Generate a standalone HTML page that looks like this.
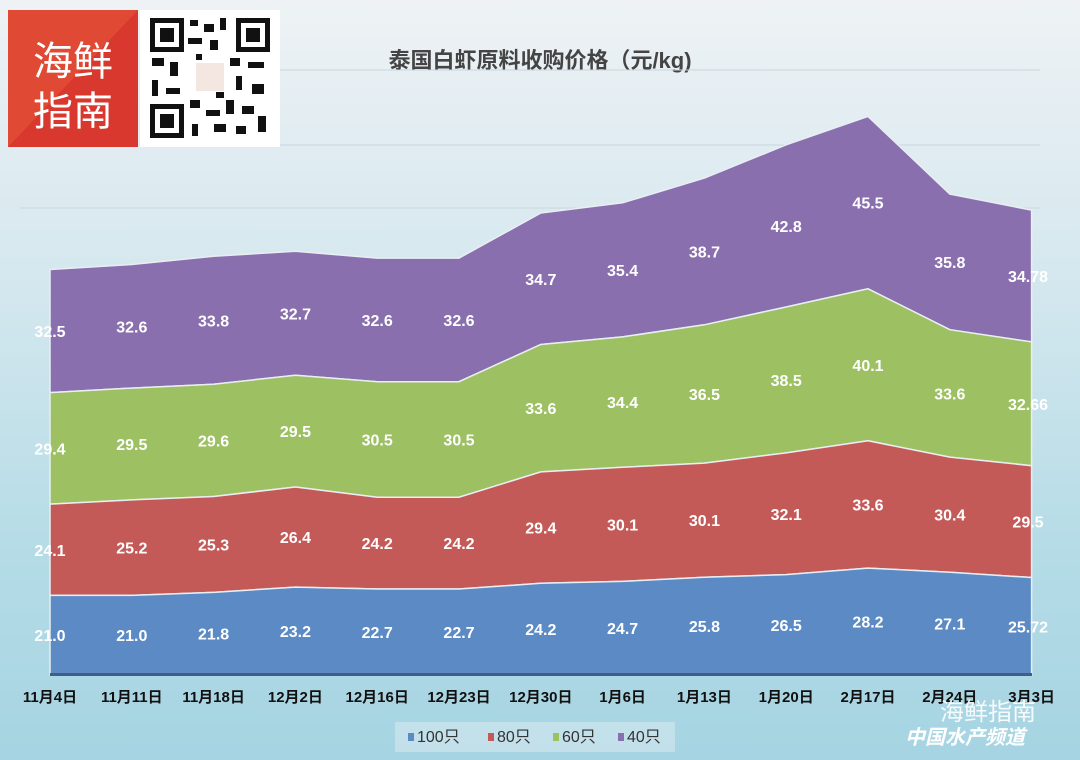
<!DOCTYPE html>
<html><head><meta charset="utf-8"><style>
html,body{margin:0;padding:0;}
body{width:1080px;height:760px;overflow:hidden;background:linear-gradient(180deg,#eef2f5 0%,#d6e8ef 35%,#b3dbe6 75%,#a6d4e2 100%);font-family:"Liberation Sans","Noto Sans CJK SC",sans-serif;position:relative}
svg{position:absolute;left:0;top:0}
</style></head><body>
<svg width="1080" height="760" xmlns="http://www.w3.org/2000/svg">
<rect x="8" y="10" width="130" height="137" fill="#d9382e"/>
<polygon points="8,10 138,10 8,147" fill="#e04a35"/>
<text x="73" y="75" font-size="40" fill="#fff" text-anchor="middle" font-family="Noto Sans CJK SC,sans-serif">海鲜</text>
<text x="73" y="125" font-size="40" fill="#fff" text-anchor="middle" font-family="Noto Sans CJK SC,sans-serif">指南</text>
<rect x="140" y="10" width="140" height="137" fill="#fff"/>
<g fill="#111">
<rect x="150" y="18" width="34" height="34"/><rect x="236" y="18" width="34" height="34"/><rect x="150" y="104" width="34" height="34"/>
<rect x="190" y="20" width="8" height="6"/><rect x="204" y="24" width="10" height="8"/><rect x="220" y="18" width="6" height="12"/>
<rect x="188" y="38" width="14" height="6"/><rect x="210" y="40" width="8" height="10"/><rect x="152" y="58" width="12" height="8"/>
<rect x="170" y="62" width="8" height="14"/><rect x="152" y="80" width="6" height="16"/><rect x="166" y="88" width="14" height="6"/>
<rect x="230" y="58" width="10" height="8"/><rect x="248" y="62" width="16" height="6"/><rect x="236" y="76" width="6" height="14"/>
<rect x="252" y="84" width="12" height="10"/><rect x="190" y="100" width="10" height="8"/><rect x="206" y="110" width="14" height="6"/>
<rect x="226" y="100" width="8" height="14"/><rect x="242" y="106" width="12" height="8"/><rect x="258" y="116" width="8" height="16"/>
<rect x="192" y="124" width="6" height="12"/><rect x="214" y="124" width="12" height="8"/><rect x="236" y="126" width="10" height="8"/>
<rect x="196" y="54" width="6" height="6"/><rect x="216" y="92" width="8" height="6"/>
</g>
<g fill="#fff"><rect x="155" y="23" width="24" height="24"/><rect x="241" y="23" width="24" height="24"/><rect x="155" y="109" width="24" height="24"/></g>
<g fill="#111"><rect x="160" y="28" width="14" height="14"/><rect x="246" y="28" width="14" height="14"/><rect x="160" y="114" width="14" height="14"/></g>
<rect x="196" y="63" width="28" height="28" fill="#f4e6e0"/>
<text x="540" y="68" font-size="22" font-weight="bold" fill="#444" text-anchor="middle">泰国白虾原料收购价格（元/kg)</text>
<g stroke="#c8d6de" stroke-width="1">
<line x1="280" y1="70" x2="1040" y2="70"/><line x1="280" y1="145" x2="1040" y2="145"/><line x1="20" y1="208" x2="1040" y2="208"/>
</g>
<g stroke="#e8eef2" stroke-width="1.5">
<polygon fill="#8a6fae" points="50,269.5 131.8,264.5 213.6,256.2 295.4,251.3 377.2,258.1 459,258.1 540.8,213.0 622.6,202.8 704.4,178.1 786.2,144.8 868,116.4 949.8,194.1 1031.6,210.1 1031.6,341.9 949.8,329.7 868,288.8 786.2,307.0 704.4,324.8 622.6,336.9 540.8,344.5 459,381.7 377.2,381.7 295.4,375.2 213.6,384.3 131.8,388.1 50,392.6"/>
<polygon fill="#9dc063" points="50,392.6 131.8,388.1 213.6,384.3 295.4,375.2 377.2,381.7 459,381.7 540.8,344.5 622.6,336.9 704.4,324.8 786.2,307.0 868,288.8 949.8,329.7 1031.6,341.9 1031.6,465.7 949.8,457.1 868,440.8 786.2,452.9 704.4,463.1 622.6,467.3 540.8,471.9 459,497.2 377.2,497.2 295.4,487.0 213.6,496.5 131.8,499.9 50,504.1"/>
<polygon fill="#c45a57" points="50,504.1 131.8,499.9 213.6,496.5 295.4,487.0 377.2,497.2 459,497.2 540.8,471.9 622.6,467.3 704.4,463.1 786.2,452.9 868,440.8 949.8,457.1 1031.6,465.7 1031.6,577.5 949.8,572.3 868,568.1 786.2,574.6 704.4,577.2 622.6,581.4 540.8,583.3 459,589.0 377.2,589.0 295.4,587.1 213.6,592.4 131.8,595.4 50,595.4"/>
<polygon fill="#5b8ac4" points="50,595.4 131.8,595.4 213.6,592.4 295.4,587.1 377.2,589.0 459,589.0 540.8,583.3 622.6,581.4 704.4,577.2 786.2,574.6 868,568.1 949.8,572.3 1031.6,577.5 1031.6,675 50,675"/>
</g>
<rect x="50" y="673" width="982" height="3" fill="#3f5f88"/>
<g font-size="16" font-weight="bold" fill="#fff" text-anchor="middle">
<text x="50" y="641.2">21.0</text><text x="131.8" y="641.2">21.0</text><text x="213.6" y="639.7">21.8</text><text x="295.4" y="637.1">23.2</text><text x="377.2" y="638">22.7</text><text x="459" y="638">22.7</text><text x="540.8" y="635.2">24.2</text><text x="622.6" y="634.2">24.7</text><text x="704.4" y="632.1">25.8</text><text x="786.2" y="630.8">26.5</text><text x="868" y="627.6">28.2</text><text x="949.8" y="629.7">27.1</text><text x="1028" y="632.3">25.72</text>
<text x="50" y="555.8">24.1</text><text x="131.8" y="553.7">25.2</text><text x="213.6" y="550.5">25.3</text><text x="295.4" y="543.1">26.4</text><text x="377.2" y="549.1">24.2</text><text x="459" y="549.1">24.2</text><text x="540.8" y="533.6">29.4</text><text x="622.6" y="530.4">30.1</text><text x="704.4" y="526.2">30.1</text><text x="786.2" y="519.8">32.1</text><text x="868" y="510.5">33.6</text><text x="949.8" y="520.7">30.4</text><text x="1028" y="527.6">29.5</text>
<text x="50" y="454.4">29.4</text><text x="131.8" y="450">29.5</text><text x="213.6" y="446.4">29.6</text><text x="295.4" y="437.1">29.5</text><text x="377.2" y="445.5">30.5</text><text x="459" y="445.5">30.5</text><text x="540.8" y="414.2">33.6</text><text x="622.6" y="408.1">34.4</text><text x="704.4" y="400">36.5</text><text x="786.2" y="386">38.5</text><text x="868" y="370.8">40.1</text><text x="949.8" y="399.4">33.6</text><text x="1028" y="409.8">32.66</text>
<text x="50" y="337.1">32.5</text><text x="131.8" y="332.3">32.6</text><text x="213.6" y="326.3">33.8</text><text x="295.4" y="319.3">32.7</text><text x="377.2" y="325.9">32.6</text><text x="459" y="325.9">32.6</text><text x="540.8" y="284.8">34.7</text><text x="622.6" y="275.9">35.4</text><text x="704.4" y="257.5">38.7</text><text x="786.2" y="231.9">42.8</text><text x="868" y="208.6">45.5</text><text x="949.8" y="267.9">35.8</text><text x="1028" y="282">34.78</text>
</g>
<g font-size="15" font-weight="bold" fill="#111" text-anchor="middle">
<text x="50" y="702">11月4日</text><text x="131.8" y="702">11月11日</text><text x="213.6" y="702">11月18日</text><text x="295.4" y="702">12月2日</text><text x="377.2" y="702">12月16日</text><text x="459" y="702">12月23日</text><text x="540.8" y="702">12月30日</text><text x="622.6" y="702">1月6日</text><text x="704.4" y="702">1月13日</text><text x="786.2" y="702">1月20日</text><text x="868" y="702">2月17日</text><text x="949.8" y="702">2月24日</text><text x="1031.6" y="702">3月3日</text>
</g>
<rect x="395" y="722" width="280" height="30" fill="#cfe6ee" opacity="0.7"/>
<g font-size="16" fill="#333">
<rect x="408" y="733" width="6" height="8" fill="#5b8ac4"/><text x="417" y="742">100只</text>
<rect x="488" y="733" width="6" height="8" fill="#c45a57"/><text x="497" y="742">80只</text>
<rect x="553" y="733" width="6" height="8" fill="#9dc063"/><text x="562" y="742">60只</text>
<rect x="618" y="733" width="6" height="8" fill="#8a6fae"/><text x="627" y="742">40只</text>
</g>
<text x="940" y="720" font-size="24" fill="#fff" opacity="0.9">海鲜指南</text>
<text x="905" y="744" font-size="20" font-weight="bold" font-style="italic" fill="#fff">中国水产频道</text>
</svg>
</body></html>
